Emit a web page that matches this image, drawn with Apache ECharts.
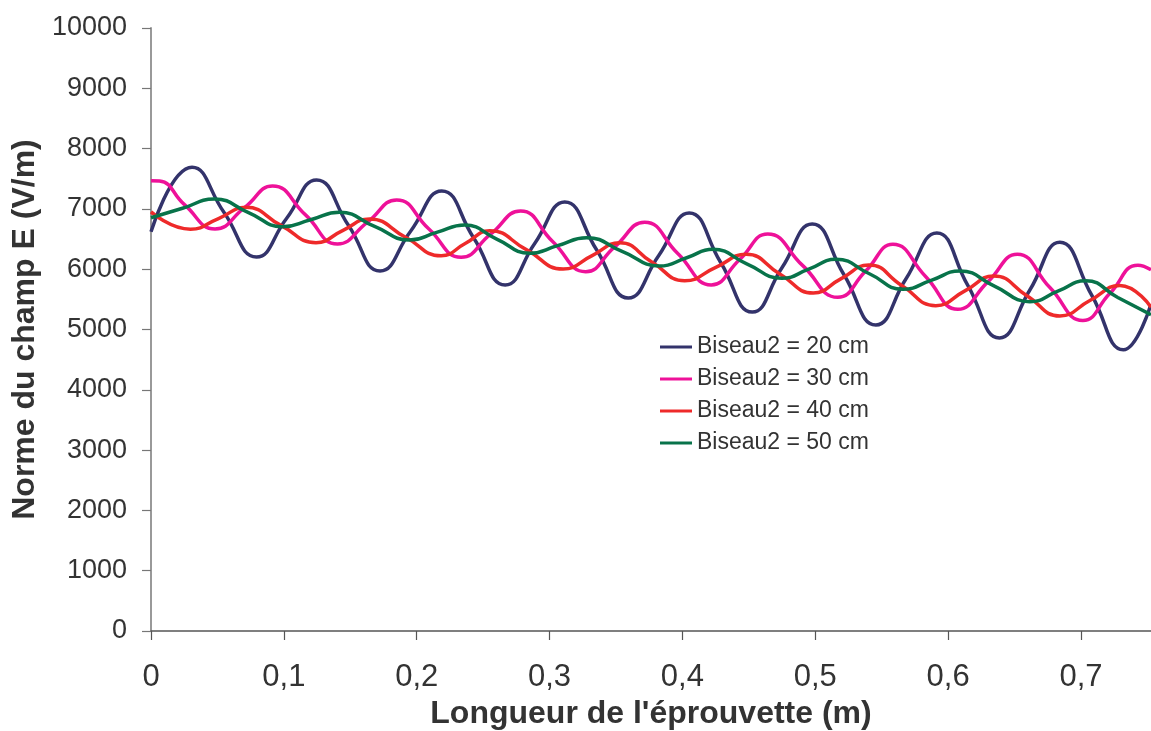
<!DOCTYPE html>
<html>
<head>
<meta charset="utf-8">
<script src="https://cdn.jsdelivr.net/npm/echarts@6/dist/echarts.min.js"></script>
<style>
html,body{margin:0;padding:0;background:#fff;}
#chart{width:1151px;height:731px;}
</style>
</head>
<body>
<div id="chart"></div>
<script>
// Longueur de l'éprouvette (m)
const xTicks = [0, 0.1, 0.2, 0.3, 0.4, 0.5, 0.6, 0.7];
const yTicks = [0, 1000, 2000, 3000, 4000, 5000, 6000, 7000, 8000, 9000, 10000];
const seriesNames = ['Biseau2 = 20 cm', 'Biseau2 = 30 cm', 'Biseau2 = 40 cm', 'Biseau2 = 50 cm'];

const x20 = [0, 0.0309, 0.0550, 0.0794, 0.1020, 0.1246, 0.1487, 0.1724, 0.1954, 0.2188, 0.2429, 0.2666, 0.2888, 0.3114, 0.3355, 0.3592, 0.3822, 0.4051, 0.4288, 0.4526, 0.4748, 0.4977, 0.5215, 0.5456, 0.5682, 0.5915, 0.6149, 0.6386, 0.6615, 0.6841, 0.7082, 0.7319, 0.7527];
const y20 = [6620, 7690, 6940, 6202, 6840, 7479, 6725, 5970, 6630, 7297, 6518, 5738, 6426, 7114, 6318, 5522, 6227, 6932, 6111, 5290, 6020, 6750, 5912, 5075, 5837, 6600, 5729, 4859, 5655, 6445, 5564, 4665, 5420];

const x30 = [0, 0.0064, 0.0252, 0.0482, 0.0704, 0.0915, 0.1163, 0.1404, 0.1630, 0.1849, 0.2090, 0.2334, 0.2556, 0.2782, 0.3023, 0.3272, 0.3490, 0.3716, 0.3965, 0.4217, 0.4431, 0.4642, 0.4906, 0.5169, 0.5380, 0.5584, 0.5832, 0.6073, 0.6299, 0.6521, 0.6766, 0.7014, 0.7218, 0.7429, 0.7527];
const y30 = [7468, 7462, 7070, 6667, 7020, 7380, 6900, 6418, 6780, 7148, 6670, 6197, 6580, 6965, 6460, 5959, 6370, 6778, 6260, 5738, 6160, 6584, 6060, 5534, 5970, 6413, 5875, 5335, 5790, 6247, 5695, 5150, 5600, 6065, 5990];

const x40 = [0, 0.0297, 0.0508, 0.0715, 0.0975, 0.1242, 0.1442, 0.1645, 0.1916, 0.2184, 0.2368, 0.2549, 0.2828, 0.3102, 0.3317, 0.3528, 0.3769, 0.4017, 0.4251, 0.4480, 0.4733, 0.4985, 0.5192, 0.5403, 0.5651, 0.5907, 0.6126, 0.6344, 0.6593, 0.6841, 0.7067, 0.7293, 0.7527];
const y40 = [6950, 6662, 6840, 7026, 6730, 6439, 6640, 6833, 6530, 6224, 6430, 6638, 6320, 6003, 6220, 6439, 6120, 5809, 6030, 6247, 5920, 5605, 5840, 6070, 5730, 5395, 5640, 5887, 5560, 5224, 5480, 5730, 5370];

const x50 = [0, 0.0237, 0.0478, 0.0734, 0.0990, 0.1201, 0.1419, 0.1683, 0.1947, 0.2150, 0.2361, 0.2602, 0.2851, 0.3060, 0.3279, 0.3550, 0.3829, 0.4032, 0.4228, 0.4484, 0.4748, 0.4951, 0.5155, 0.5411, 0.5659, 0.5877, 0.6088, 0.6352, 0.6615, 0.6826, 0.7036, 0.7277, 0.7527];
const y50 = [6854, 7010, 7164, 6940, 6705, 6820, 6943, 6710, 6484, 6610, 6733, 6500, 6264, 6390, 6522, 6290, 6053, 6190, 6330, 6090, 5849, 6000, 6164, 5920, 5667, 5820, 5970, 5715, 5461, 5635, 5809, 5530, 5245];

const colors = ['#33336b', '#ee1199', '#ee2a2a', '#08734a'];
const xs = [x20, x30, x40, x50];
const ys = [y20, y30, y40, y50];

const chart = echarts.init(document.getElementById('chart'), null, {renderer: 'canvas'});
const series = seriesNames.map((name, i) => ({
  name: name,
  type: 'line',
  smooth: 0.5,
  symbol: 'none',
  data: xs[i].map((x, j) => [x, ys[i][j]]),
  lineStyle: {color: colors[i], width: 3.5},
  itemStyle: {color: colors[i]},
  z: 2 + i
}));

chart.setOption({
  animation: false,
  backgroundColor: '#ffffff',
  color: colors,
  grid: {left: 151, right: 0, top: 28, bottom: 100, containLabel: false, outerBoundsMode: 'none'},
  legend: {
    orient: 'vertical',
    left: 660,
    top: 335,
    padding: 0,
    itemWidth: 32,
    itemHeight: 14,
    itemGap: 8,
    icon: 'path://M0,6 L32,6 L32,9 L0,9 Z',
    data: seriesNames,
    textStyle: {fontFamily: 'Liberation Sans, Arial, sans-serif', fontSize: 23, color: '#333333', lineHeight: 24}
  },
  xAxis: {
    type: 'value',
    min: 0,
    max: 0.7527,
    interval: 0.1,
    name: "Longueur de l'éprouvette (m)",
    nameLocation: 'middle',
    nameGap: 60,
    nameTextStyle: {fontFamily: 'Liberation Sans, Arial, sans-serif', fontWeight: 'bold', fontSize: 32, color: '#333333'},
    axisLine: {show: true, lineStyle: {color: '#555555', width: 1.5}},
    axisTick: {show: true, length: 9, inside: false, lineStyle: {color: '#555555', width: 1.2}},
    splitLine: {show: false},
    axisLabel: {
      showMaxLabel: false,
      margin: 31,
      fontFamily: 'Liberation Sans, Arial, sans-serif',
      fontSize: 31,
      color: '#333333',
      formatter: function (v) {
        const t = xTicks.find(k => Math.abs(k - v) < 1e-6);
        return t === undefined ? '' : String(t).replace('.', ',');
      }
    }
  },
  yAxis: {
    type: 'value',
    min: 0,
    max: 10000,
    interval: 1000,
    name: 'Norme du champ E (V/m)',
    nameLocation: 'middle',
    nameGap: 104,
    nameTextStyle: {fontFamily: 'Liberation Sans, Arial, sans-serif', fontWeight: 'bold', fontSize: 32, color: '#333333'},
    axisLine: {show: true, lineStyle: {color: '#999999', width: 2}},
    axisTick: {show: true, length: 9, inside: false, lineStyle: {color: '#777777', width: 1.2}},
    splitLine: {show: false},
    axisLabel: {
      margin: 24,
      fontFamily: 'Liberation Sans, Arial, sans-serif',
      fontSize: 27,
      color: '#333333',
      formatter: function (v) {
        const t = yTicks.find(k => k === v);
        return t === undefined ? '' : String(t);
      }
    }
  },
  series: series
});
</script>
</body>
</html>
